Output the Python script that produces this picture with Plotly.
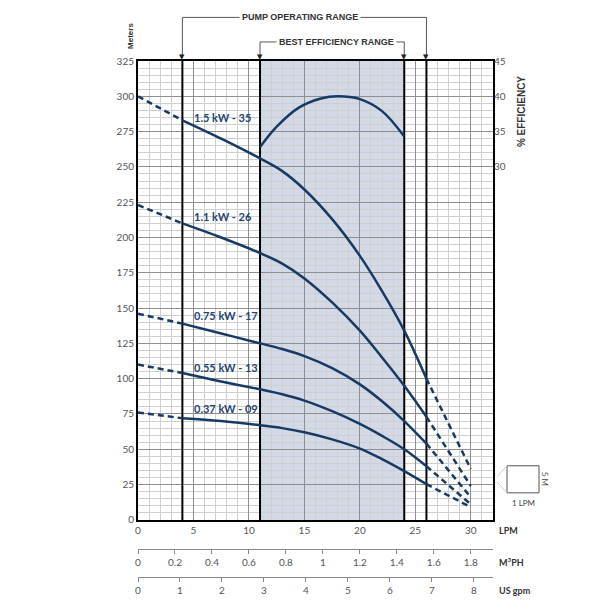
import plotly.graph_objects as go

# ---------------- data ----------------
LPM_PER_M3H = 1000 / 60
LPM_PER_GPM = 3.78541
X_MAX = 32

models = ["1.5 kW - 35", "1.1 kW - 26", "0.75 kW - 17", "0.55 kW - 13", "0.37 kW - 09"]
flow_solid = [4, 7.5, 11, 13, 15, 17.5, 20, 22, 24, 26]
head_15 = [283, 270, 256, 247, 234, 213, 187, 162, 134, 100]
head_11 = [210, 200, 189, 181.5, 171, 154, 134, 115, 95, 73]
head_075 = [139, 132, 125, 121, 116, 107.5, 96, 84, 70, 54]
head_055 = [104, 98, 92.5, 89, 84.5, 77, 68, 59.5, 50, 38]
head_037 = [72, 70, 67, 65, 62, 57, 50.5, 43, 34.5, 25.3]
heads = [head_15, head_11, head_075, head_055, head_037]
head_shutoff = [300, 223, 146, 110, 76]   # at 0 LPM
flow_end = 30
head_end = [36, 24, 16, 11, 9]            # at 30 LPM
label_head = [285, 215, 145, 108, 79]

eff_flow = [11, 12.5, 14.5, 16.5, 18, 20, 22, 24]
eff_pct = [32.8, 35.7, 38.4, 39.7, 40.0, 39.6, 37.9, 34.3]

pump_range = [4, 26]
bep_range = [11, 24]

m3h_ticks = [0, 0.2, 0.4, 0.6, 0.8, 1, 1.2, 1.4, 1.6, 1.8]
gpm_ticks = [0, 1, 2, 3, 4, 5, 6, 7, 8]

# ---------------- style ----------------
NAVY = "#173a64"
LABEL = "#1f4572"
FONT = "Lato, Open Sans, sans-serif"
NARROW = "Liberation Sans Narrow, Arial Narrow, Liberation Sans, sans-serif"

# figure geometry (the page shows the figure 8px in from the top-left)
W, H = 592, 600
ML, MR, MT, MB = 130, 107, 53, 20
PW = W - ML - MR
PH = 519                 # effective paper height as drawn
PAPER_BOTTOM_REF = 580   # reference-pixel y of paper bottom
PLOT_LEFT_REF = 138      # reference-pixel x of plot left


def py(pix):  # reference pixel y -> paper y
    return (PAPER_BOTTOM_REF - pix) / PH


def px(pix):  # reference pixel x -> paper x
    return (pix - PLOT_LEFT_REF) / PW


fig = go.Figure()

for name, h, h0, h1 in zip(models, heads, head_shutoff, head_end):
    fig.add_trace(go.Scatter(x=flow_solid, y=h, mode="lines", line=dict(color=NAVY, width=2.5, shape="spline"),
                             hoverinfo="skip", showlegend=False))
    fig.add_trace(go.Scatter(x=[0, flow_solid[0]], y=[h0, h[0]], mode="lines",
                             line=dict(color=NAVY, width=2.5, dash="6px,4px"), hoverinfo="skip", showlegend=False))
    fig.add_trace(go.Scatter(x=[flow_solid[-1], flow_end], y=[h[-1], h1], mode="lines",
                             line=dict(color=NAVY, width=2.5, dash="6px,4px"), hoverinfo="skip", showlegend=False))

fig.add_trace(go.Scatter(x=eff_flow, y=eff_pct, yaxis="y2", mode="lines",
                         line=dict(color=NAVY, width=2.5, shape="spline"), hoverinfo="skip", showlegend=False))

# dummy traces for the secondary flow axes
fig.add_trace(go.Scatter(x=[0], y=[0], xaxis="x2", mode="markers", marker=dict(opacity=0), hoverinfo="skip", showlegend=False))
fig.add_trace(go.Scatter(x=[0], y=[0], xaxis="x3", mode="markers", marker=dict(opacity=0), hoverinfo="skip", showlegend=False))

shapes = []
shapes.append(dict(type="rect", xref="x", yref="y", x0=bep_range[0], x1=bep_range[1], y0=0, y1=325,
                   fillcolor="#d3d9e7", line=dict(width=0), layer="below"))
for xv in pump_range + bep_range:
    shapes.append(dict(type="line", xref="x", yref="y", x0=xv, x1=xv, y0=0, y1=325,
                       line=dict(color="black", width=2), layer="between"))
# brackets
for rng, yb in ((pump_range, 17.5), (bep_range, 42)):
    shapes.append(dict(type="line", xref="x", yref="paper", x0=rng[0], x1=rng[1], y0=py(yb), y1=py(yb),
                       line=dict(color="#555", width=1)))
    for xv in rng:
        shapes.append(dict(type="line", xref="x", yref="paper", x0=xv, x1=xv, y0=py(yb), y1=py(56),
                           line=dict(color="#555", width=1)))
# scale box
shapes.append(dict(type="rect", xref="paper", yref="paper", x0=px(507), x1=px(539), y0=py(492), y1=py(465),
                   line=dict(color="#555", width=1)))
shapes.append(dict(type="line", xref="paper", yref="paper", x0=px(497), x1=px(507), y0=py(476), y1=py(465),
                   line=dict(color="#ccc", width=1)))
shapes.append(dict(type="line", xref="paper", yref="paper", x0=px(497), x1=px(507), y0=py(481), y1=py(492),
                   line=dict(color="#ccc", width=1)))

ann = []
for name, yv in zip(models, label_head):
    ann.append(dict(x=4.9, y=yv, xref="x", yref="y", text="<b>%s</b>" % name, showarrow=False, xanchor="left",
                    yanchor="middle", font=dict(family=FONT, size=11, color=LABEL)))
for xv in pump_range + bep_range:
    ann.append(dict(x=xv, y=py(61), xref="x", yref="paper", text="▼", showarrow=False, xanchor="center",
                    yanchor="bottom", yshift=-2, font=dict(family="DejaVu Sans", size=7, color="#222")))
ann.append(dict(x=14.6, y=py(17.5), xref="x", yref="paper", text="<b>PUMP OPERATING RANGE</b>", showarrow=False,
                xanchor="center", yanchor="middle", bgcolor="white", borderpad=2,
                font=dict(family=NARROW, size=9, color="#333")))
ann.append(dict(x=17.9, y=py(42), xref="x", yref="paper", text="<b>BEST EFFICIENCY RANGE</b>", showarrow=False,
                xanchor="center", yanchor="middle", bgcolor="white", borderpad=2,
                font=dict(family=NARROW, size=9, color="#333")))
ann.append(dict(x=px(131), y=py(36), xref="paper", yref="paper", text="<b>Meters</b>", showarrow=False,
                xanchor="center", yanchor="middle", textangle=-90, font=dict(family=NARROW, size=8, color="#333")))
ann.append(dict(x=px(521), y=py(112), xref="paper", yref="paper", text="<b>% EFFICIENCY</b>", showarrow=False,
                xanchor="center", yanchor="middle", textangle=-90, font=dict(family=NARROW, size=10, color="#333")))
ann.append(dict(x=px(497), y=py(530), xref="paper", yref="paper", text="<b>LPM</b>", showarrow=False,
                xanchor="left", yanchor="middle", font=dict(family=FONT, size=9, color="#333")))
ann.append(dict(x=px(497), y=py(561), xref="paper", yref="paper", text="<b>M<sup>3</sup>PH</b>", showarrow=False,
                xanchor="left", yanchor="middle", font=dict(family=FONT, size=9, color="#333")))
ann.append(dict(x=px(497), y=py(589), xref="paper", yref="paper", text="<b>US gpm</b>", showarrow=False,
                xanchor="left", yanchor="middle", font=dict(family=FONT, size=9, color="#333")))
ann.append(dict(x=px(523), y=py(502), xref="paper", yref="paper", text="1 LPM", showarrow=False,
                xanchor="center", yanchor="middle", font=dict(family=FONT, size=8, color="#444")))
ann.append(dict(x=px(545), y=py(478), xref="paper", yref="paper", text="5 M", showarrow=False, textangle=90,
                xanchor="center", yanchor="middle", font=dict(family=FONT, size=8, color="#444")))

tickfont = dict(family=FONT, size=10, color="#555")

fig.update_layout(
    width=W, height=H, margin=dict(l=ML, r=MR, t=MT, b=MB),
    paper_bgcolor="white", plot_bgcolor="white", showlegend=False,
    shapes=shapes, annotations=ann,
    xaxis=dict(range=[0, X_MAX], showgrid=True, gridcolor="#8f8f8f", gridwidth=1,
               minor=dict(dtick=1, tick0=0, showgrid=True, gridcolor="#cfcfcf", gridwidth=1),
               showline=True, linecolor="black", linewidth=2, mirror=True, ticks="", zeroline=False,
               tickfont=tickfont, anchor="y", tickvals=[0, 5, 10, 15, 20, 25, 30]),
    yaxis=dict(range=[0, 325], dtick=25, tick0=0, domain=[py(519), 1],
               showgrid=True, gridcolor="#8f8f8f", gridwidth=1,
               minor=dict(dtick=5, tick0=0, showgrid=True, gridcolor="#cfcfcf", gridwidth=1),
               showline=True, linecolor="black", linewidth=2, mirror=True, ticks="", zeroline=False,
               tickfont=tickfont),
    yaxis2=dict(range=[-20, 45], overlaying="y", side="right", tickvals=[30, 35, 40, 45], showgrid=False,
                zeroline=False, showline=False, ticks="", tickfont=tickfont),
    xaxis2=dict(range=[0, X_MAX / LPM_PER_M3H], overlaying="x", anchor="free", position=py(548), side="bottom",
                tickvals=m3h_ticks, showgrid=False, zeroline=False, showline=True, linecolor="#888", linewidth=1,
                ticks="outside", ticklen=4, tickcolor="#888", tickfont=tickfont),
    xaxis3=dict(range=[0, X_MAX / LPM_PER_GPM], overlaying="x", anchor="free", position=py(576), side="bottom",
                tickvals=gpm_ticks, showgrid=False, zeroline=False, showline=True, linecolor="#888", linewidth=1,
                ticks="outside", ticklen=4, tickcolor="#888", tickfont=tickfont),
)

fig.write_html("out.html")
